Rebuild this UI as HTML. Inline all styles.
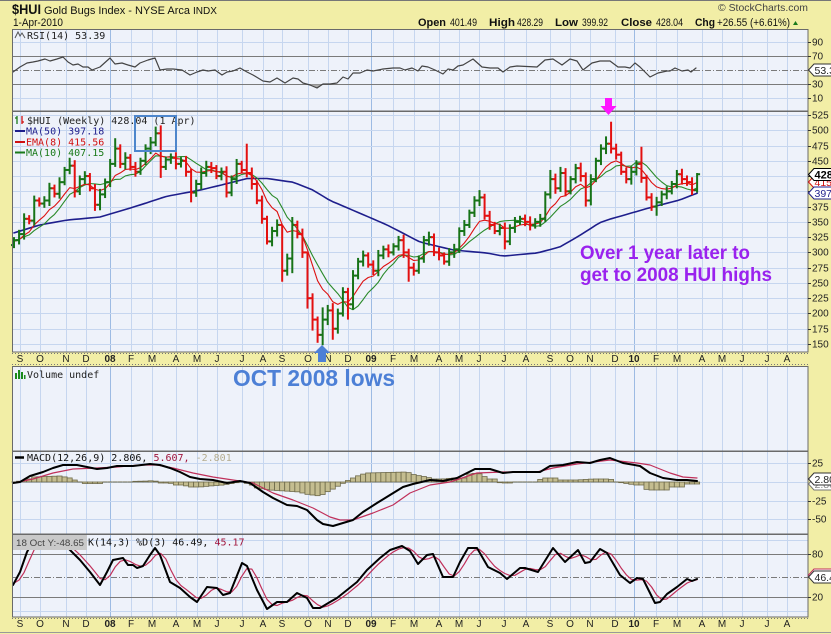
<!DOCTYPE html>
<html><head><meta charset="utf-8">
<style>
html,body{margin:0;padding:0;background:#f2eea6;width:831px;height:634px;overflow:hidden}
svg{display:block}
text{font-family:"Liberation Sans",Arial,sans-serif;}
.m{font-family:"DejaVu Sans Mono","Liberation Mono",monospace;font-size:10px;}
.ax{font-size:10px;fill:#222}
</style></head><body>
<svg id="s" width="831" height="634" viewBox="0 0 831 634" xmlns="http://www.w3.org/2000/svg">
<rect x="0" y="0" width="831" height="634" fill="#f2eea6"/>
<line x1="0" y1="0.5" x2="831" y2="0.5" stroke="#777"/>
<!-- panel backgrounds -->
<rect x="12" y="29" width="796" height="82" fill="#eef2fa"/>
<rect x="12" y="111" width="796" height="241" fill="#eef2fa"/>
<rect x="12" y="366" width="796" height="85" fill="#eef2fa"/>
<rect x="12" y="451" width="796" height="83" fill="#eef2fa"/>
<rect x="12" y="534" width="796" height="83" fill="#eef2fa"/>
<g id="grid"></g>
<g id="hist"></g>
<g id="series"></g>
<g id="bars"></g>
<!-- panel borders -->
<g fill="none" stroke="#6a6a6a" stroke-width="1">
<rect x="12.5" y="29.5" width="795.5" height="81.5"/>
<rect x="12.5" y="111.5" width="795.5" height="240.5"/>
<rect x="12.5" y="366.5" width="795.5" height="84.5"/>
<rect x="12.5" y="451.5" width="795.5" height="82.5"/>
<rect x="12.5" y="534.5" width="795.5" height="82.5"/>
</g>
<g stroke="#777" stroke-width="1" stroke-dasharray="1,2">
<line x1="12" y1="353.5" x2="808" y2="353.5"/>
<line x1="12" y1="364.5" x2="808" y2="364.5"/>
<line x1="12" y1="618.5" x2="808" y2="618.5"/>
</g>
<line x1="0" y1="632.5" x2="831" y2="632.5" stroke="#999"/>
<g id="axis"></g>

<!-- header -->
<text x="12" y="14" font-size="13.5" font-weight="bold" textLength="29" lengthAdjust="spacingAndGlyphs" fill="#111">$HUI</text>
<text x="44" y="14" font-size="11" textLength="146" lengthAdjust="spacingAndGlyphs" fill="#111">Gold Bugs Index - NYSE Arca</text>
<text x="193" y="14" font-size="10" textLength="24" lengthAdjust="spacingAndGlyphs" fill="#111">INDX</text>
<text x="13" y="26" font-size="11" textLength="50" lengthAdjust="spacingAndGlyphs" fill="#111">1-Apr-2010</text>
<text x="718" y="11" font-size="10.5" textLength="90" lengthAdjust="spacingAndGlyphs" fill="#444">© StockCharts.com</text>
<g font-size="11" fill="#111">
<text x="418" y="26" font-weight="bold" textLength="28" lengthAdjust="spacingAndGlyphs">Open</text>
<text x="450" y="26" textLength="27" lengthAdjust="spacingAndGlyphs">401.49</text>
<text x="489" y="26" font-weight="bold" textLength="26" lengthAdjust="spacingAndGlyphs">High</text>
<text x="517" y="26" textLength="26" lengthAdjust="spacingAndGlyphs">428.29</text>
<text x="555" y="26" font-weight="bold" textLength="23" lengthAdjust="spacingAndGlyphs">Low</text>
<text x="582" y="26" textLength="26" lengthAdjust="spacingAndGlyphs">399.92</text>
<text x="621" y="26" font-weight="bold" textLength="31" lengthAdjust="spacingAndGlyphs">Close</text>
<text x="656" y="26" textLength="27" lengthAdjust="spacingAndGlyphs">428.04</text>
<text x="695" y="26" font-weight="bold" textLength="20" lengthAdjust="spacingAndGlyphs">Chg</text>
<text x="717" y="26" textLength="73" lengthAdjust="spacingAndGlyphs">+26.55 (+6.61%)</text>
</g>
<path d="M793,25 L798,25 L795.5,21 Z" fill="#1a7a1a"/>

<!-- panel legends -->
<path d="M15,38 L18,32 L20,36 L22,33 L25,38" fill="none" stroke="#555" stroke-width="1"/>
<text class="m" x="27" y="39" fill="#222">RSI(14) 53.39</text>

<g stroke-width="1.3"><line x1="17" y1="116" x2="17" y2="124" stroke="#1a7a1a"/><line x1="22" y1="116" x2="22" y2="124" stroke="#d01010"/><line x1="15" y1="118" x2="17" y2="118" stroke="#1a7a1a"/><line x1="22" y1="122" x2="24" y2="122" stroke="#d01010"/></g>
<text class="m" x="27" y="124" fill="#222">$HUI (Weekly) 428.04 (1 Apr)</text>
<line x1="15" y1="131" x2="25" y2="131" stroke="#1e1e8c" stroke-width="2"/>
<text class="m" x="26" y="134.5" fill="#1e1e8c">MA(50) 397.18</text>
<line x1="15" y1="142" x2="25" y2="142" stroke="#d01010" stroke-width="2"/>
<text class="m" x="26" y="145.5" fill="#d01010">EMA(8) 415.56</text>
<line x1="15" y1="152.5" x2="25" y2="152.5" stroke="#1a7a1a" stroke-width="2"/>
<text class="m" x="26" y="156" fill="#1a7a1a">MA(10) 407.15</text>

<g fill="#1a8a1a"><rect x="15" y="373" width="2" height="6"/><rect x="18" y="370" width="2" height="9"/><rect x="21" y="372" width="2" height="7"/><rect x="24" y="375" width="1.5" height="4"/></g>
<text class="m" x="27" y="378" fill="#222">Volume undef</text>

<line x1="15" y1="457.5" x2="24" y2="457.5" stroke="#000" stroke-width="2.5"/>
<text class="m" x="27" y="461" fill="#111">MACD(12,26,9) 2.806, <tspan fill="#a0143c">5.607,</tspan> <tspan fill="#b5ad90">-2.801</tspan></text>

<rect x="13" y="535" width="74" height="15" fill="#c9c9c9"/>
<text x="16" y="546" font-size="9.5" fill="#444" textLength="68" lengthAdjust="spacingAndGlyphs">18 Oct Y:-48.65</text>
<text class="m" x="88" y="545.5" fill="#111">K(14,3) %D(3) 46.49, <tspan fill="#a0143c">45.17</tspan></text>

<!-- annotations -->
<rect x="135" y="116" width="41" height="35" fill="none" stroke="#4d86cc" stroke-width="2"/>
<path d="M605,98 L612,98 L612,106 L616.5,106 L608.5,115 L600.5,106 L605,106 Z" fill="#ff14ff"/>
<path d="M322,345 L330,353 L326,353 L326,362 L318,362 L318,353 L314,353 Z" fill="#4d80d6"/>
<text x="233" y="386" font-size="23" font-weight="bold" fill="#4d80d6" textLength="162" lengthAdjust="spacingAndGlyphs">OCT 2008 lows</text>
<text x="580" y="259" font-size="19.5" font-weight="bold" fill="#9a22ee" textLength="170" lengthAdjust="spacingAndGlyphs">Over 1 year later to</text>
<text x="580" y="281" font-size="19.5" font-weight="bold" fill="#9a22ee" textLength="192" lengthAdjust="spacingAndGlyphs">get to 2008 HUI highs</text>
<g id="tags"></g>
</svg>
<script>
(function(){
var NS="http://www.w3.org/2000/svg";
function el(tag,a,p){var e=document.createElementNS(NS,tag);for(var k in a)e.setAttribute(k,a[k]);p.appendChild(e);return e;}
var G=document.getElementById('grid'),HI=document.getElementById('hist'),SE=document.getElementById('series'),BA=document.getElementById('bars'),AX=document.getElementById('axis'),TG=document.getElementById('tags');
function X(i){return 14+i*5.06;}
function PY(v){return 115+(525-v)*0.6107;}
function interp(p,x){if(x<=p[0][0])return p[0][1];for(var k=1;k<p.length;k++){if(x<=p[k][0]){var x0=p[k-1][0],y0=p[k-1][1],x1=p[k][0],y1=p[k][1];return y0+(y1-y0)*(x-x0)/(x1-x0);}}return p[p.length-1][1];}
function poly(p,stroke,w,par){el('polyline',{points:p.map(function(q){return q[0].toFixed(1)+','+q[1].toFixed(1);}).join(' '),fill:'none',stroke:stroke,'stroke-width':w,'stroke-linejoin':'round','stroke-linecap':'round'},par);}
function hl(y,x1,x2,c,w,dash){var a={x1:x1,y1:y,x2:x2,y2:y,stroke:c,'stroke-width':w||1};if(dash)a['stroke-dasharray']=dash;el('line',a,G);}

// months
var L=[["S",20],["O",40],["N",66],["D",86],["08",110,1],["F",131],["M",152],["A",176],["M",197],["J",217],["J",242],["A",263],["S",282],["O",308],["N",328],["D",348],["09",371,1],["F",393],["M",414],["A",439],["M",459],["J",479],["J",504],["A",526],["S",550],["O",570],["N",590],["D",615],["10",634,1],["F",656],["M",677],["A",702],["M",722],["J",742],["J",767],["A",787]];
var panels=[[29,111],[111,352],[366,451],[451,534],[534,617]];
L.forEach(function(m){
  var x=m[0+1]+0.5;
  panels.forEach(function(p){el('line',{x1:x,y1:p[0],x2:x,y2:p[1],stroke:m[2]?'#9dbbe3':'#c6d6ef','stroke-width':1},G);});
  [362,627].forEach(function(y){var t=el('text',{x:m[1],y:y,'text-anchor':'middle','font-size':'10',fill:'#222','font-weight':m[2]?'bold':'normal'},AX);t.textContent=m[0];});
});
// horizontal grids
hl(42.5,12,808,'#c6d6ef');hl(98.5,12,808,'#c6d6ef');
hl(56.5,12,808,'#7a7a7a');hl(84.5,12,808,'#7a7a7a');hl(70.5,12,808,'#7a7a7a',1,'6,2,1,2');
for(var v=150;v<=525;v+=25){hl(Math.round(PY(v))+0.5,12,808,'#c6d6ef');}
[463,482,501,519].forEach(function(y){hl(y+0.5,12,808,'#c6d6ef');});
hl(554.5,12,808,'#7a7a7a');hl(597.5,12,808,'#7a7a7a');hl(577.5,12,808,'#7a7a7a',1,'6,2,1,2');
hl(540.5,12,808,'#c6d6ef');hl(611.5,12,808,'#c6d6ef');

// right axis labels
function rl(y,t){el('line',{x1:808,y1:y+0.5,x2:811,y2:y+0.5,stroke:'#333'},AX);var e=el('text',{x:812,y:y+3.6,'font-size':'10',fill:'#222'},AX);e.textContent=t;}
rl(42,'90');rl(56,'70');rl(84,'30');rl(98,'10');
for(var v2=150;v2<=525;v2+=25){rl(Math.round(PY(v2)),String(v2));}
rl(463,'25');rl(501,'-25');rl(519,'-50');
rl(554,'80');rl(597,'20');

// price data
var C=[320,330,355,352,385,380,385,405,396,415,
435,442,400,420,425,405,378,395,415,445,
470,445,455,440,432,450,470,480,495,440,
452,455,445,450,432,398,412,430,440,438,
425,432,398,420,445,435,430,412,385,355,
318,335,345,270,290,345,330,300,225,190,
165,190,205,175,200,235,215,262,285,295,
280,270,295,305,300,310,320,300,275,270,
290,320,325,300,295,285,300,305,335,345,
365,385,390,360,345,335,340,318,340,350,
355,350,345,350,355,395,420,405,430,400,
420,438,425,385,420,450,470,478,470,460,
432,420,432,445,422,390,375,382,395,400,
412,428,420,415,402,428];
var OV={11:[455,null],12:[null,390],16:[null,368],20:[487,null],28:[506,null],29:[508,422],35:[null,382],38:[450,null],42:[null,390],46:[478,null],51:[null,310],53:[305,252],55:[358,266],58:[290,208],59:[null,172],60:[null,152],61:[210,148],63:[217,157],65:[243,null],66:[null,190],78:[null,252],92:[402,null],97:[null,305],106:[435,null],108:[440,null],113:[null,375],117:[490,null],118:[514,462],124:[473,null],126:[null,368],127:[null,360],135:[430,398]};
for(var i=0;i<C.length;i++){
  var o=i==0?312:C[i-1],c=C[i],r=5+((i*7)%5);
  var h=Math.max(o,c)+r,l=Math.min(o,c)-r;
  if(OV[i]){if(OV[i][0]!=null)h=Math.max(OV[i][0],o,c);if(OV[i][1]!=null)l=Math.min(OV[i][1],o,c);}
  var col=c>=o?'#177317':'#e31010',x=X(i);
  el('line',{x1:x,y1:PY(h),x2:x,y2:PY(l),stroke:col,'stroke-width':2},BA);
  el('line',{x1:x-3,y1:PY(o),x2:x,y2:PY(o),stroke:col,'stroke-width':2},BA);
  el('line',{x1:x,y1:PY(c),x2:x+3,y2:PY(c),stroke:col,'stroke-width':2},BA);
}
// MAs
var seed=[300,305,300,310,315,320,315,325,330,320,325,315];
var all=seed.concat(C),ema=0,k=2/9;
for(var j=0;j<8;j++)ema+=all[j];ema/=8;
var E=[],M10=[];
for(var j2=8;j2<all.length;j2++){ema=all[j2]*k+ema*(1-k);var ii=j2-seed.length;if(ii>=0){E.push([X(ii),PY(ema)]);var s=0;for(var q=j2-9;q<=j2;q++)s+=all[q];M10.push([X(ii),PY(s/10)]);}}
var MA50=[[14,332],[40,345],[67,353],[100,358],[133,374],[167,392],[200,402],[233,415],[247,421],[267,421],[293,415],[313,402],[320,395],[330,385],[353,369],[387,345],[420,317],[453,304],[487,299],[503,294],[537,299],[560,309],[580,328],[600,349],[613,356],[620,359],[647,372],[680,386],[697,397]];
var m50=[];for(var i3=0;i3<C.length;i3++){var xx=X(i3);m50.push([xx,PY(interp(MA50,xx))]);}
poly(m50,'#1e1e8c',1.6,SE);
poly(M10,'#2a8a2a',1.1,SE);
poly(E,'#dd1111',1.1,SE);

// RSI
var R=[[13,72],[20,67],[27,63],[33,62],[38,61],[45,59],[50,61],[57,59],[63,57],[68,62],[73,65],[78,64],[83,67],[88,67],[92,70],[100,67],[110,58],[115,64],[122,63],[128,65],[135,67],[140,63],[148,60],[155,58],[160,70],[167,69],[173,69],[182,70],[190,75],[197,72],[203,70],[208,71],[215,70],[222,75],[227,72],[233,71],[240,68],[247,72],[253,75],[263,81],[270,82],[277,78],[285,83],[293,78],[298,79],[303,83],[310,85],[317,88],[323,84],[330,84],[337,83],[343,77],[348,79],[353,73],[360,73],[367,70],[373,71],[383,69],[393,68],[400,68],[405,70],[412,68],[418,71],[422,66],[428,67],[435,70],[443,74],[448,69],[453,70],[458,66],[463,65],[473,59],[482,67],[490,68],[498,68],[503,72],[510,67],[517,66],[537,67],[545,60],[553,59],[562,65],[570,59],[577,61],[583,70],[592,63],[600,61],[610,61],[618,67],[625,67],[630,68],[635,63],[640,67],[650,77],[658,73],[667,71],[670,71],[675,68],[682,71],[688,70],[691,72],[696,68]];
el('path',{d:'M308,84.5 L317,88 L320,86 L322,84.5 Z',fill:'#aaa'},SE);
poly(R,'#444',1.2,SE);

// MACD histogram
var H=[[14,0],[27,2],[33,5],[60,6],[70,4],[77,1],[83,-1.5],[100,-1.5],[105,0],[150,1],[153,2],[160,-1],[170,-1],[175,-3],[183,-3],[190,-5],[200,-5],[210,-4],[223,-3],[235,-1],[240,0],[250,-2],[257,-6],[270,-8],[300,-10],[305,-12],[320,-14],[327,-10],[333,-7],[340,-3],[347,1],[353,4],[360,7],[367,9],[407,10],[415,7],[427,5],[433,3],[443,3],[453,4],[467,4],[470,9],[482,8],[487,3],[497,3],[500,-1],[510,-1],[513,0],[537,0],[542,4],[557,4],[560,2],[577,2],[593,3],[610,3],[617,0],[630,-2],[635,-3],[643,-3],[647,-8],[667,-8],[670,-5],[683,-5],[687,-2],[697,-2]];
for(var i4=0;i4<C.length;i4++){var x4=X(i4),hv=interp(H,x4);var y0=482,y1=482-hv;
  if(Math.abs(hv)<0.6){el('line',{x1:x4-2.5,y1:482,x2:x4+2.5,y2:482,stroke:'#6e6a4a','stroke-width':1},HI);}
  else el('rect',{x:x4-2.53,y:Math.min(y0,y1),width:5.06,height:Math.abs(hv),fill:'#c4bd90',stroke:'#6e6a4a','stroke-width':0.8},HI);}
var MS=[[13,483],[33,479],[53,473],[73,469],[97,468],[117,467],[140,465],[157,465],[173,468],[193,473],[213,477],[233,480],[253,483],[273,493],[293,500],[313,508],[330,517],[340,520],[353,520],[373,513],[393,505],[410,493],[430,485],[450,482],[477,473],[503,472],[537,472],[553,468],[577,464],[610,460],[637,463],[650,465],[670,473],[683,477],[697,478]];
var MM=[[13,483],[20,482],[30,476],[43,472],[53,468],[63,465],[77,465],[87,467],[97,469],[107,468],[117,466],[133,466],[150,464],[160,465],[170,468],[180,472],[190,477],[200,479],[213,480],[227,483],[240,481],[250,483],[263,492],[273,498],[287,505],[297,506],[307,510],[317,520],[323,524],[333,526],[343,523],[353,520],[363,512],[377,503],[390,495],[403,487],[413,484],[430,480],[443,481],[457,478],[467,473],[475,469],[490,469],[503,473],[513,472],[540,472],[550,466],[563,465],[577,462],[590,463],[600,460],[610,458],[623,463],[640,466],[650,473],[663,478],[677,480],[687,480],[697,481]];
poly(MS,'#c0305a',1.2,SE);
poly(MM,'#000',2,SE);

// Stochastics
var K=[[13,585],[20,572],[27,552],[33,541],[42,540],[52,540],[60,542],[67,547],[80,560],[90,572],[100,585],[107,572],[113,560],[123,558],[128,565],[133,565],[137,568],[143,566],[150,555],[155,548],[160,555],[170,582],[180,588],[190,597],[197,602],[207,587],[217,588],[223,595],[230,593],[242,563],[247,566],[257,590],[267,609],[277,602],[287,602],[297,593],[307,598],[313,608],[320,608],[330,602],[337,598],[347,590],[357,582],[367,570],[380,558],[390,550],[402,546],[410,551],[418,564],[427,555],[433,554],[443,577],[453,577],[460,562],[468,548],[477,548],[488,567],[500,573],[507,579],[520,568],[525,568],[538,572],[553,548],[565,562],[578,550],[585,563],[590,562],[600,549],[607,553],[620,575],[630,583],[637,578],[643,579],[655,603],[660,602],[667,594],[677,587],[687,579],[692,581],[697,579]];
var kw=[],D=[];
for(var i5=0;i5<C.length;i5++){kw.push(interp(K,X(i5)));}
for(var i6=0;i6<C.length;i6++){var a=kw[Math.max(0,i6-2)],b=kw[Math.max(0,i6-1)],c6=kw[i6];D.push([X(i6),(a+b+c6)/3]);}
poly(D,'#c0305a',1.2,SE);
poly(K,'#000',2,SE);

// tags
function tag(y,t,col,bold,tc){el('path',{d:'M808.5,'+y+' L814,'+(y-6)+' L832,'+(y-6)+' L832,'+(y+6)+' L814,'+(y+6)+' Z',fill:'#fff',stroke:col,'stroke-width':1},TG);var e=el('text',{x:814.5,y:y+4,'font-size':bold?'11':'10.5','font-weight':bold?'bold':'normal',fill:tc||col},TG);e.textContent=t;}
tag(70,'53.39','#333',0,'#222');
tag(182,'415.56','#d01010',0);
tag(174.5,'428.04','#000',1);
tag(193,'397.18','#1e1e8c',0);
tag(484,'2.806','#777',0,'#888');
tag(479,'2.806','#333',0,'#222');
tag(575,'45.17','#c0305a',0);
tag(577,'46.49','#333',0,'#222');
})();
</script>
</body></html>
